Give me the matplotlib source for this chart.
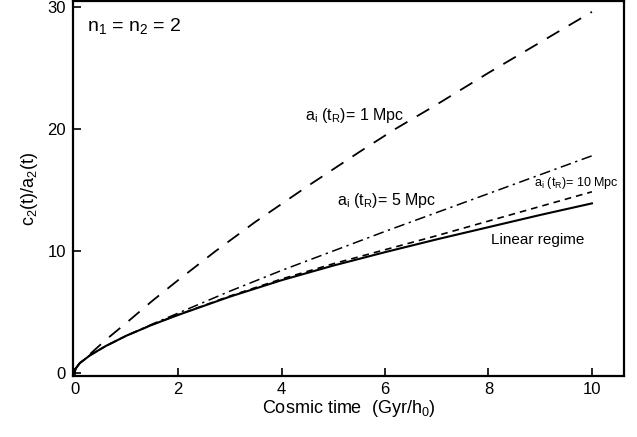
import matplotlib
matplotlib.use("Agg")
import matplotlib.pyplot as plt

plt.rcParams['font.family'] = ['Liberation Sans', 'DejaVu Sans']
plt.rcParams['mathtext.default'] = 'regular'

# Linear regime (solid)
t_lin = [0, 0.02, 0.1, 0.3, 0.6, 1, 1.5, 2, 2.5, 3, 4, 5, 6, 7, 8, 9, 10]
v_lin = [0, 0.35, 0.8, 1.45, 2.2, 3.05, 3.95, 4.75, 5.5, 6.25, 7.6, 8.8, 9.9, 10.95, 11.95, 12.95, 13.9]

# a_i(t_R) = 1 Mpc (long dashes)
t_1 = [0, 0.02, 0.1, 0.3, 0.6, 1, 1.5, 2, 2.73, 3.5, 4.5, 5.5, 6.2, 7, 8, 9, 10]
v_1 = [0, 0.35, 0.8, 1.55, 2.7, 4.1, 5.9, 7.6, 10.0, 12.4, 15.3, 18.1, 20.0, 22.0, 24.6, 27.1, 29.6]

# a_i(t_R) = 5 Mpc (dash-dot)
t_5 = [0, 0.02, 0.1, 0.3, 0.6, 1, 1.5, 2, 2.5, 3, 4, 5, 6, 7, 8, 9, 10]
v_5 = [0, 0.35, 0.8, 1.45, 2.2, 3.05, 4.0, 4.9, 5.8, 6.7, 8.4, 10.0, 11.6, 13.15, 14.7, 16.25, 17.8]

# a_i(t_R) = 10 Mpc (short dashes)
t_10 = [0, 0.02, 0.1, 0.3, 0.6, 1, 1.5, 2, 2.5, 3, 4, 5, 6, 7, 8, 9, 10]
v_10 = [0, 0.35, 0.8, 1.45, 2.2, 3.05, 3.95, 4.77, 5.53, 6.3, 7.7, 8.95, 10.1, 11.25, 12.45, 13.65, 14.85]

x_ticks = [0, 2, 4, 6, 8, 10]
y_ticks = [0, 10, 20, 30]

fig = plt.figure(figsize=(6.37, 4.37), dpi=100)
ax = fig.add_axes([0.1146, 0.1396, 0.865, 0.857])

ax.plot(t_lin, v_lin, color='black', lw=1.5, ls='-')
ax.plot(t_1, v_1, color='black', lw=1.3, ls=(0, (8, 6)))
ax.plot(t_5, v_5, color='black', lw=1.1, ls=(0, (7, 3, 1.5, 3)))
ax.plot(t_10, v_10, color='black', lw=1.2, ls=(0, (4, 3)))

ax.set_xlim(-0.03, 10.62)
ax.set_ylim(-0.25, 30.45)
ax.set_xticks(x_ticks)
ax.set_yticks(y_ticks)
ax.tick_params(direction='in', length=6, width=1.2, labelsize=12, pad=5)
ax.tick_params(axis='x', pad=4)
for s in ax.spines.values():
    s.set_linewidth(1.6)

ax.set_xlabel('Cosmic time  (Gyr/h$_0$)', fontsize=13, labelpad=1)
ax.set_ylabel('c$_2$(t)/a$_2$(t)', fontsize=13, labelpad=5)

ax.text(0.025, 0.96, 'n$_1$ = n$_2$ = 2', transform=ax.transAxes,
        fontsize=14, ha='left', va='top')
ax.text(4.45, 21.1, 'a$_i$ (t$_R$)= 1 Mpc', fontsize=11.5, ha='left', va='center')
ax.text(5.07, 14.15, 'a$_i$ (t$_R$)= 5 Mpc', fontsize=11.5, ha='left', va='center')
ax.text(8.88, 15.55, 'a$_i$ (t$_R$)= 10 Mpc', fontsize=9, ha='left', va='center')
ax.text(8.05, 10.9, 'Linear regime', fontsize=11, ha='left', va='center')

fig.savefig('out.png', dpi=100)
